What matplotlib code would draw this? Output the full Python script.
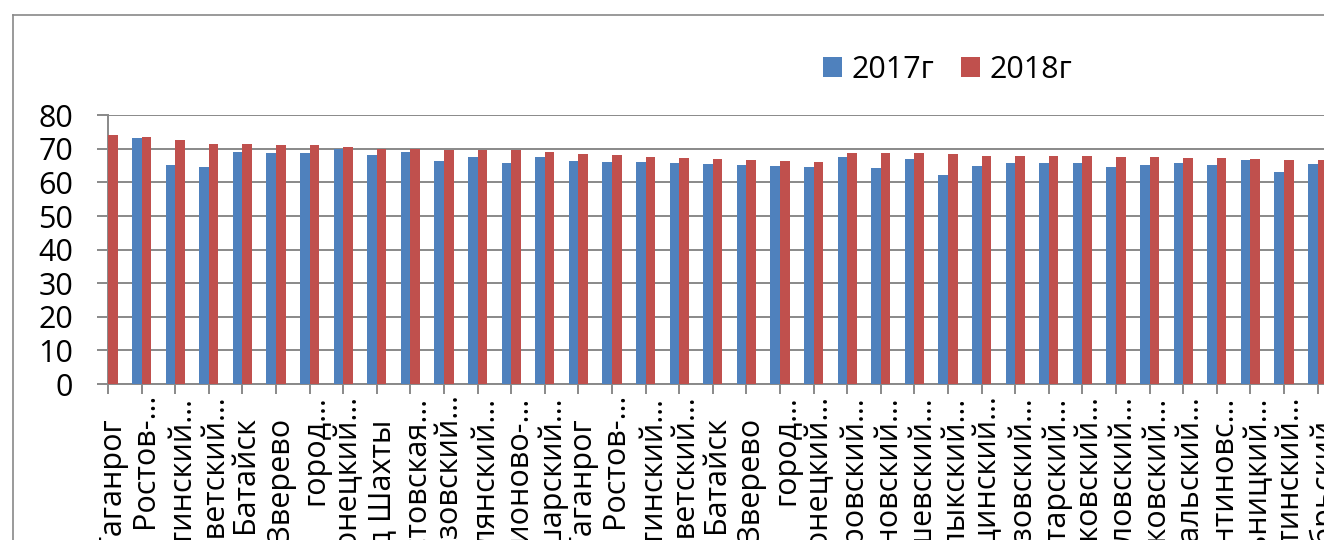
import numpy as np
import matplotlib.pyplot as plt
import matplotlib.transforms as mtransforms
from matplotlib.lines import Line2D

plt.rcParams['font.family'] = ['Open Sans', 'DejaVu Sans']

# подписи районов (обрезаны снизу, как в исходнике)
labels = ['г. Таганрог   ', 'город Ростов-…', 'Милютинский…', 'Советский…',
          'г. Батайск   ', 'г. Зверево   ', 'город…', 'Усть-Донецкий…',
          'город Шахты   ', 'Ростовская…', 'Азовский…', 'Цимлянский…',
          'Родионово-…', 'Кашарский…',
          'г. Таганрог   ', 'город Ростов-…', 'Милютинский…', 'Советский…',
          'г. Батайск   ', 'г. Зверево   ', 'город…', 'Усть-Донецкий…',
          'Миллеровский…', 'Неклиновский…', 'Куйбышевский…', 'Егорлыкский…',
          'Тацинский…', 'Морозовский…', 'Пролетарский…', 'Зимовниковский…',
          'Орловский…', 'Чертковский…', 'Сальский…', 'Константиновс…',
          'Кагальницкий…', 'Заветинский…', 'Октябрьский…']

# первый синий столбец спрятан за осью
v2017 = [np.nan, 73.1, 65.2, 64.5, 69.1, 68.8, 68.7, 70.0, 68.1, 69.1,
         66.4, 67.6, 65.8, 67.5, 66.4, 66.2, 66.0, 65.7, 65.5, 65.2,
         64.9, 64.6, 67.6, 64.4, 66.9, 62.1, 64.9, 65.7, 65.8, 65.7,
         64.5, 65.1, 65.8, 65.2, 66.8, 63.1, 65.6]
v2018 = [74.2, 73.4, 72.7, 71.6, 71.5, 71.3, 71.1, 70.5, 70.1, 69.9,
         69.8, 69.7, 69.7, 69.1, 68.4, 68.1, 67.7, 67.3, 67.0, 66.7,
         66.4, 66.0, 68.8, 68.8, 68.8, 68.4, 68.0, 67.9, 67.8, 67.8,
         67.5, 67.5, 67.3, 67.2, 67.0, 66.8, 66.7]

W, H = 1324, 540
grey = '#898989'

fig = plt.figure(figsize=(W / 100, H / 100), dpi=100)
ax = fig.add_axes([108 / W, 156 / H, (W - 108) / W, 268.7 / H])

x = np.arange(len(labels))
w = 0.283
ax.bar(x - w, v2017, w, align='edge', color='#4F81BD', label='2017г', zorder=3)
ax.bar(x, v2018, w, align='edge', color='#C0504D', label='2018г', zorder=3)

ax.set_xlim(0, (W - 108) / 33.6)
ax.set_ylim(0, 80)
ax.set_yticks(range(0, 81, 10))
ax.set_xticks(x)
ax.set_xticklabels([])

# подписи категорий: чуть правее делений, как в Excel
trans = ax.get_xaxis_transform() + mtransforms.ScaledTranslation(
    6 / 100, -11.5 / 100, fig.dpi_scale_trans)
for i, lab in enumerate(labels):
    ax.text(i, 0, lab, transform=trans, rotation=90, ha='center', va='top',
            fontsize=22, clip_on=False)

ax.grid(axis='y', color=grey, linewidth=1.4, zorder=0)
ax.set_axisbelow(True)
for s in ['top', 'right']:
    ax.spines[s].set_visible(False)
for s in ['left', 'bottom']:
    ax.spines[s].set_color(grey)
    ax.spines[s].set_linewidth(1.4)

ax.tick_params(axis='y', length=8, width=1.4, color=grey, pad=17, labelsize=22)
ax.tick_params(axis='x', length=7.2, width=1.4, color=grey)

fig.legend(loc='center left', bbox_to_anchor=(823 / W, 1 - 70 / H), ncol=2,
           frameon=False, fontsize=22, handlelength=0.62, handleheight=0.62,
           handletextpad=0.3, columnspacing=0.9, borderpad=0, borderaxespad=0)

# рамка области диаграммы
fig.add_artist(Line2D([13 / W, 1], [1 - 15 / H, 1 - 15 / H], color=grey, lw=1.2))
fig.add_artist(Line2D([13 / W, 13 / W], [0, 1 - 15 / H], color=grey, lw=1.2))

fig.savefig('out.png', dpi=100)
